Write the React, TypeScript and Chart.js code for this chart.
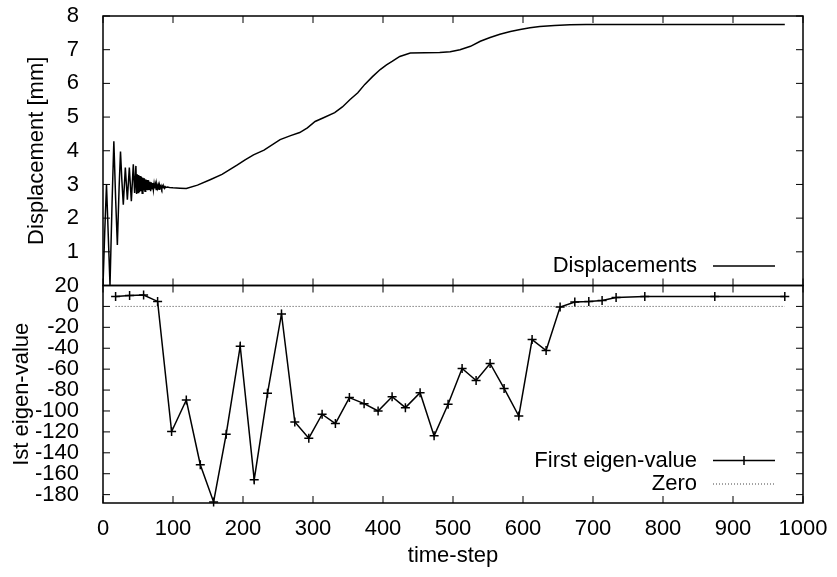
import { useEffect, useRef } from 'react';
import Chart from 'chart.js/auto';

// ---- Data ----
const dispT = [
  0, 2.5, 5, 7.5, 10, 13, 15.5, 18, 20.5, 23, 25, 27, 29, 31.9, 34.8, 37.6, 40.5, 43.3, 45.2, 47,
  48, 49, 50, 51, 52, 53, 54, 55, 56, 57, 58, 59, 60, 61, 62, 63, 64, 65, 66, 67, 68, 69, 70,
  71, 72, 73, 74, 75, 76, 77, 78, 79, 80, 81, 82, 83, 84, 85, 86, 87, 88, 89, 90, 92, 95, 100,
  110, 119, 135, 153, 170, 181, 192, 203, 215, 230, 253, 268, 281, 292, 303, 315, 331, 342, 353,
  364, 374, 385, 396, 405, 413, 424, 439, 460, 481, 496, 510, 525, 539, 553, 567, 582, 596, 610,
  624, 645, 667, 690, 710, 800, 900, 974,
];
const dispV = [
  0, 1.6, 3.0, 1.5, 0.0, 2.5, 4.28, 2.6, 1.2, 2.9, 3.98, 3.1, 2.4, 3.5, 2.55, 3.5, 2.5, 3.6, 2.75, 3.55,
  2.72, 3.3, 2.76, 3.28, 2.78, 3.25, 2.8, 3.22, 2.74, 3.2, 2.82, 3.18, 2.8, 3.15, 2.84, 3.13, 2.83, 3.12, 2.86, 3.08, 2.8, 3.06, 2.87,
  3.04, 2.84, 3.02, 2.88, 3.0, 2.85, 2.99, 2.89, 2.98, 2.86, 2.97, 2.9, 2.96, 2.88, 2.95, 2.9, 2.94, 2.89, 2.93, 2.91, 2.92, 2.91, 2.9,
  2.89, 2.88, 2.98, 3.14, 3.3, 3.44, 3.58, 3.73, 3.88, 4.02, 4.33, 4.45, 4.54, 4.68, 4.87, 4.98, 5.13, 5.3, 5.52,
  5.72, 5.97, 6.2, 6.41, 6.55, 6.65, 6.8, 6.9, 6.91, 6.92, 6.94, 7.0, 7.1, 7.25, 7.36, 7.46, 7.54, 7.6, 7.65,
  7.69, 7.72, 7.74, 7.75, 7.75, 7.75, 7.75, 7.75,
];

const eigT = [
  18, 38, 58, 78, 98, 119, 139, 158, 176, 196, 216, 235, 255, 274, 294, 313, 332, 352, 373, 393,
  413, 432, 453, 473, 493, 513, 533, 553, 573, 594, 613, 633, 653, 674, 694, 713, 733, 774, 874, 974,
];
const eigV = [
  9.5, 10.5, 10.9, 4.8, -119.6, -89.5, -151.4, -187, -122.2, -38.1, -165.7, -83.1, -7.2, -110.5, -126, -103.1, -112, -87.2, -93, -100,
  -86.3, -96.8, -82.5, -123.8, -93.6, -59.3, -70.8, -54.6, -78.4, -104.8, -31.7, -42.2, -0.6, 4.2, 4.8, 5.7, 8.6, 9.5, 9.5, 9.5,
];

const zeroT = [18, 974];
const zeroV = [0, 0];

const xTicks = [0, 100, 200, 300, 400, 500, 600, 700, 800, 900, 1000];
const yTopTicks = [1, 2, 3, 4, 5, 6, 7, 8];
const yBotTicks = [-180, -160, -140, -120, -100, -80, -60, -40, -20, 0, 20];

const FONT = { family: "'Liberation Sans', Arial, sans-serif", size: 22 };

const framePlugin = {
  id: 'gnuFrame',
  afterDatasetsDraw(chart: any) {
    const ctx = chart.ctx;
    const xs = chart.scales.x;
    const yt = chart.scales.yDisp;
    const yb = chart.scales.yEig;
    const L = chart.chartArea.left;
    const R = chart.chartArea.right;
    ctx.save();
    const panels: [any, number[]][] = [[yt, yTopTicks], [yb, yBotTicks]];
    for (const [s, ticks] of panels) {
      ctx.strokeStyle = '#000';
      ctx.lineWidth = 1;
      ctx.beginPath();
      for (const v of xTicks) {
        const px = xs.getPixelForValue(v);
        ctx.moveTo(px, s.bottom);
        ctx.lineTo(px, s.bottom - 7);
        ctx.moveTo(px, s.top);
        ctx.lineTo(px, s.top + 7);
      }
      for (const v of ticks) {
        const py = s.getPixelForValue(v);
        ctx.moveTo(L, py);
        ctx.lineTo(L + 7, py);
        ctx.moveTo(R, py);
        ctx.lineTo(R - 7, py);
      }
      ctx.stroke();
      ctx.lineWidth = 1.5;
      ctx.strokeRect(L, s.top, R - L, s.bottom - s.top);
    }

    // Legends
    ctx.font = `${FONT.size}px ${FONT.family}`;
    ctx.fillStyle = '#000';
    ctx.textAlign = 'right';
    ctx.textBaseline = 'middle';
    const tx = R - 106;
    const l0 = R - 90;
    const l1 = R - 28;

    // top legend
    let y = yt.bottom - 19.5;
    ctx.fillText('Displacements', tx, y);
    ctx.lineWidth = 1.5;
    ctx.beginPath();
    ctx.moveTo(l0, y);
    ctx.lineTo(l1, y);
    ctx.stroke();

    // bottom legend
    y = yb.bottom - 42.5;
    ctx.fillText('First eigen-value', tx, y);
    ctx.beginPath();
    ctx.moveTo(l0, y);
    ctx.lineTo(l1, y);
    const mx = (l0 + l1) / 2;
    ctx.moveTo(mx - 4.5, y);
    ctx.lineTo(mx + 4.5, y);
    ctx.moveTo(mx, y - 4.5);
    ctx.lineTo(mx, y + 4.5);
    ctx.stroke();

    y = yb.bottom - 19;
    ctx.fillText('Zero', tx, y);
    ctx.strokeStyle = '#444';
    ctx.lineWidth = 1;
    ctx.setLineDash([1, 2]);
    ctx.beginPath();
    ctx.moveTo(l0, y);
    ctx.lineTo(l1, y);
    ctx.stroke();
    ctx.setLineDash([]);
    ctx.restore();
  },
};

const plainTick = (v: any) => String(v);

export default function App() {
  const ref = useRef<HTMLCanvasElement>(null);
  useEffect(() => {
    document.body.style.margin = '0';
    const canvas = ref.current!;
    const chart = new Chart(canvas, {
      type: 'line',
      data: {
        datasets: [
          {
            label: 'Displacements',
            data: dispT.map((t, i) => ({ x: t, y: dispV[i] })),
            yAxisID: 'yDisp',
            borderColor: '#000',
            borderWidth: 1.5,
            pointRadius: 0,
            tension: 0,
          },
          {
            label: 'First eigen-value',
            data: eigT.map((t, i) => ({ x: t, y: eigV[i] })),
            yAxisID: 'yEig',
            borderColor: '#000',
            borderWidth: 1.5,
            pointStyle: 'cross',
            pointRadius: 4.5,
            pointBorderWidth: 1.5,
            pointBorderColor: '#000',
            tension: 0,
            clip: false as any,
          },
          {
            label: 'Zero',
            data: zeroT.map((t, i) => ({ x: t, y: zeroV[i] })),
            yAxisID: 'yEig',
            borderColor: '#444',
            borderWidth: 1,
            borderDash: [1, 2],
            pointRadius: 0,
          },
        ],
      },
      options: {
        responsive: false,
        animation: false,
        devicePixelRatio: 1,
        layout: { padding: { top: 16, right: 34, left: 0, bottom: 0 } },
        plugins: { legend: { display: false }, tooltip: { enabled: false } },
        scales: {
          x: {
            type: 'linear',
            min: 0,
            max: 1000,
            position: 'bottom',
            grid: { display: false },
            border: { display: false },
            afterBuildTicks: (s: any) => {
              s.ticks = xTicks.map((v) => ({ value: v }));
            },
            afterFit: (s: any) => {
              s.height = 74;
              s.paddingLeft = 0;
              s.paddingRight = 0;
            },
            ticks: { font: FONT, color: '#000', padding: 5, maxRotation: 0, autoSkip: false, callback: plainTick },
            title: { display: true, text: 'time-step', font: FONT, color: '#000', padding: { top: 0, bottom: 8 } },
          },
          yEig: {
            type: 'linear',
            position: 'left',
            stack: 'panels',
            stackWeight: 217.5,
            min: -188,
            max: 20,
            grid: { display: false },
            border: { display: false },
            afterBuildTicks: (s: any) => {
              s.ticks = yBotTicks.map((v) => ({ value: v }));
            },
            afterFit: (s: any) => {
              s.width = 103;
              s.paddingTop = 0;
              s.paddingBottom = 0;
            },
            ticks: { font: FONT, color: '#000', padding: 16, autoSkip: false, callback: plainTick },
            title: { display: true, text: 'Ist eigen-value', font: FONT, color: '#000', padding: { top: 9, bottom: 0 } },
          },
          yDisp: {
            type: 'linear',
            position: 'left',
            stack: 'panels',
            stackWeight: 269.5,
            min: 0,
            max: 8,
            grid: { display: false },
            border: { display: false },
            afterBuildTicks: (s: any) => {
              s.ticks = yTopTicks.map((v) => ({ value: v }));
            },
            afterFit: (s: any) => {
              s.width = 103;
              s.paddingTop = 0;
              s.paddingBottom = 0;
            },
            ticks: { font: FONT, color: '#000', padding: 16, autoSkip: false, callback: plainTick },
            title: { display: true, text: 'Displacement [mm]', font: FONT, color: '#000', padding: { top: 24, bottom: 0 } },
          },
        },
      } as any,
      plugins: [framePlugin],
    });
    return () => chart.destroy();
  }, []);
  return <canvas ref={ref} width={837} height={577} style={{ display: 'block' }} />;
}
